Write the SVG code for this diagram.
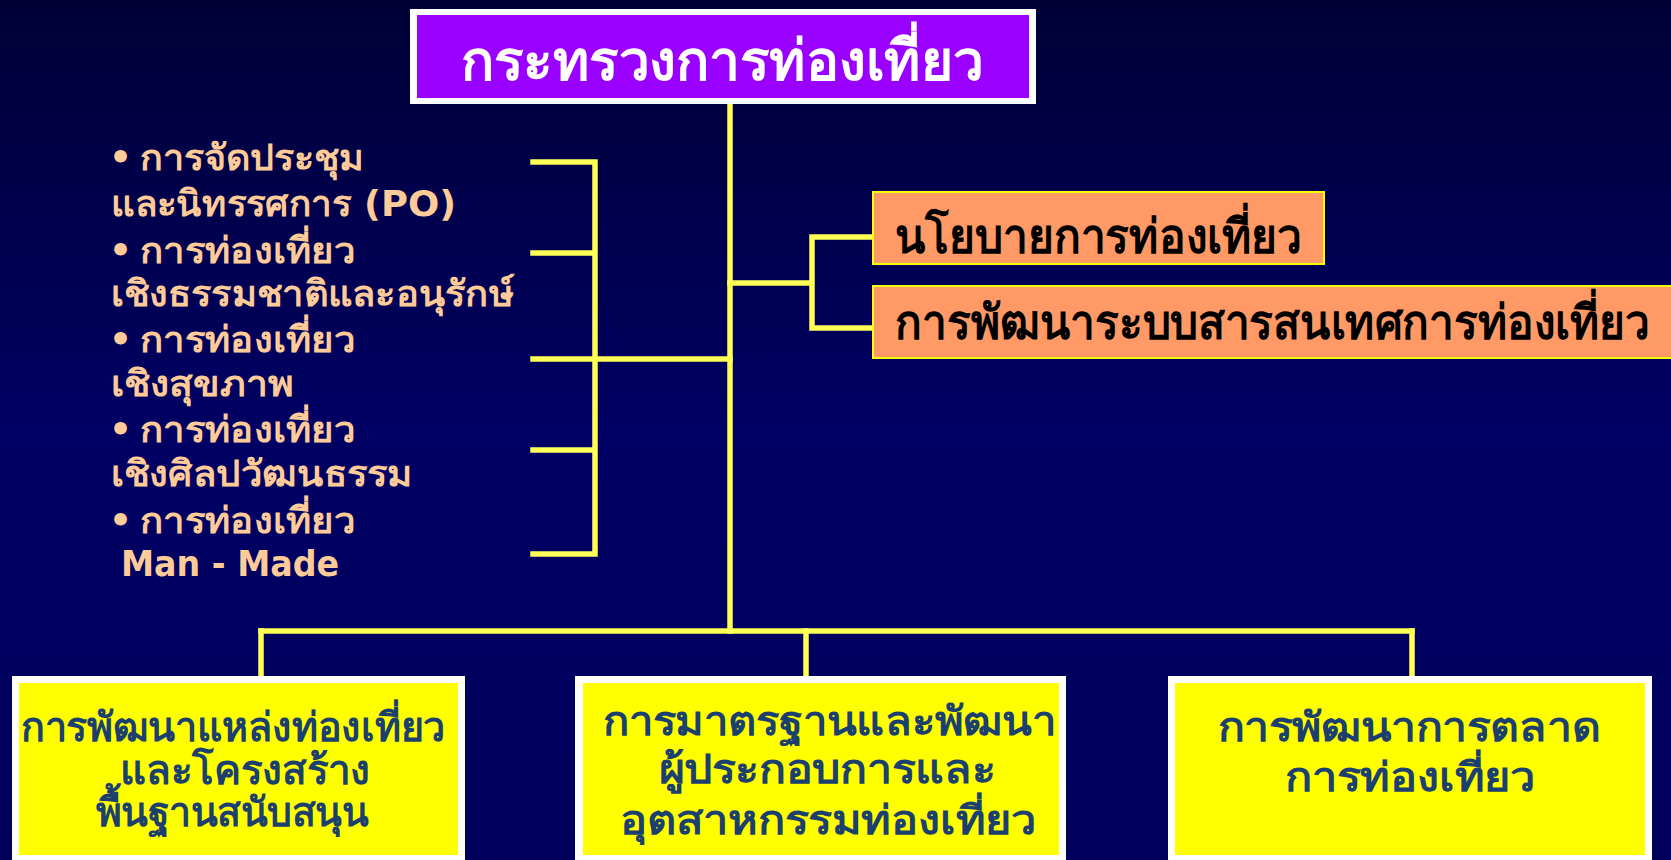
<svg xmlns="http://www.w3.org/2000/svg" width="1671" height="860" viewBox="0 0 1671 860">
<defs>
<linearGradient id="bg" x1="0" y1="0" x2="0" y2="1">
<stop offset="0" stop-color="#000036"/>
<stop offset="0.5" stop-color="#000064"/>
<stop offset="1" stop-color="#00005c"/>
</linearGradient>
<style>
.ln{stroke:#FFFF55;stroke-width:5.5;fill:none;stroke-linecap:square}
.t{font-family:"DejaVu Sans","Noto Sans",sans-serif;font-weight:bold}
.lft{fill:#FFCC99;font-size:36px}
.bot{fill:#1B3F6E;font-size:40px;text-anchor:middle}
.org{fill:#000000;font-size:48px}
.wb{fill:#FFFFFF}
.yb{fill:#FFFF00}
</style>
</defs>
<rect x="0" y="0" width="1671" height="860" fill="url(#bg)"/>
<g id="connectors">
<path class="ln" d="M730 94 V631"/>
<path class="ln" d="M261 631 H1412"/>
<path class="ln" d="M261 631 V676 M806 631 V676 M1412 631 V676"/>
<path class="ln" d="M533 162 H595 V554 H533 M533 253 H595 M533 359 H730 M533 450 H595"/>
<path class="ln" d="M730 283 H812 M874 237 H812 V328 H874"/>
</g>
<g id="ministry">
<rect x="410" y="9" width="626" height="95" fill="#FFFFFF"/>
<rect x="417" y="15" width="612" height="83" fill="#9900FF"/>
<text class="t" x="722" y="80" fill="#FFFFFF" font-size="56" text-anchor="middle" textLength="523" lengthAdjust="spacingAndGlyphs">กระทรวงการท่องเที่ยว</text>
</g>
<g id="left-list">
<text class="t lft" x="109" y="170">•</text>
<text class="t lft" x="140" y="170" textLength="224" lengthAdjust="spacingAndGlyphs">การจัดประชุม</text>
<text class="t lft" x="111" y="216" textLength="345" lengthAdjust="spacingAndGlyphs">และนิทรรศการ (PO)</text>
<text class="t lft" x="109" y="263">•</text>
<text class="t lft" x="140" y="263" textLength="215" lengthAdjust="spacingAndGlyphs">การท่องเที่ยว</text>
<text class="t lft" x="111" y="306" textLength="403" lengthAdjust="spacingAndGlyphs">เชิงธรรมชาติและอนุรักษ์</text>
<text class="t lft" x="109" y="352">•</text>
<text class="t lft" x="140" y="352" textLength="215" lengthAdjust="spacingAndGlyphs">การท่องเที่ยว</text>
<text class="t lft" x="111" y="396" textLength="183" lengthAdjust="spacingAndGlyphs">เชิงสุขภาพ</text>
<text class="t lft" x="109" y="442">•</text>
<text class="t lft" x="140" y="442" textLength="215" lengthAdjust="spacingAndGlyphs">การท่องเที่ยว</text>
<text class="t lft" x="111" y="486" textLength="302" lengthAdjust="spacingAndGlyphs">เชิงศิลปวัฒนธรรม</text>
<text class="t lft" x="109" y="533">•</text>
<text class="t lft" x="140" y="533" textLength="215" lengthAdjust="spacingAndGlyphs">การท่องเที่ยว</text>
<text class="t lft" x="121" y="576" font-size="34" textLength="218" lengthAdjust="spacingAndGlyphs">Man - Made</text>
</g>
<g id="policy">
<rect x="873" y="192" width="451" height="72" fill="#FF9966" stroke="#FFFF00" stroke-width="2"/>
<text class="t org" x="895" y="253" textLength="407" lengthAdjust="spacingAndGlyphs">นโยบายการท่องเที่ยว</text>
</g>
<g id="infosys">
<rect x="873" y="286" width="800" height="72" fill="#FF9966" stroke="#FFFF00" stroke-width="2"/>
<text class="t org" x="895" y="339" textLength="755" lengthAdjust="spacingAndGlyphs">การพัฒนาระบบสารสนเทศการท่องเที่ยว</text>
</g>
<g id="attractions">
<rect x="12" y="676" width="453" height="190" class="wb"/>
<rect x="19" y="683" width="439" height="172" class="yb"/>
<text class="t bot" x="233" y="741" textLength="424" lengthAdjust="spacingAndGlyphs">การพัฒนาแหล่งท่องเที่ยว</text>
<text class="t bot" x="245" y="784" textLength="251" lengthAdjust="spacingAndGlyphs">และโครงสร้าง</text>
<text class="t bot" x="232" y="826" textLength="272" lengthAdjust="spacingAndGlyphs">พื้นฐานสนับสนุน</text>
</g>
<g id="standards">
<rect x="575" y="676" width="491" height="190" class="wb"/>
<rect x="583" y="683" width="476" height="172" class="yb"/>
<text class="t bot" x="829" y="735" font-size="44" textLength="453" lengthAdjust="spacingAndGlyphs">การมาตรฐานและพัฒนา</text>
<text class="t bot" x="827" y="783" font-size="44" textLength="337" lengthAdjust="spacingAndGlyphs">ผู้ประกอบการและ</text>
<text class="t bot" x="828" y="834" font-size="44" textLength="416" lengthAdjust="spacingAndGlyphs">อุตสาหกรรมท่องเที่ยว</text>
</g>
<g id="marketing">
<rect x="1168" y="676" width="484" height="190" class="wb"/>
<rect x="1175" y="683" width="470" height="172" class="yb"/>
<text class="t bot" x="1409" y="741" font-size="44" textLength="383" lengthAdjust="spacingAndGlyphs">การพัฒนาการตลาด</text>
<text class="t bot" x="1410" y="791" font-size="44" textLength="250" lengthAdjust="spacingAndGlyphs">การท่องเที่ยว</text>
</g>
</svg>
